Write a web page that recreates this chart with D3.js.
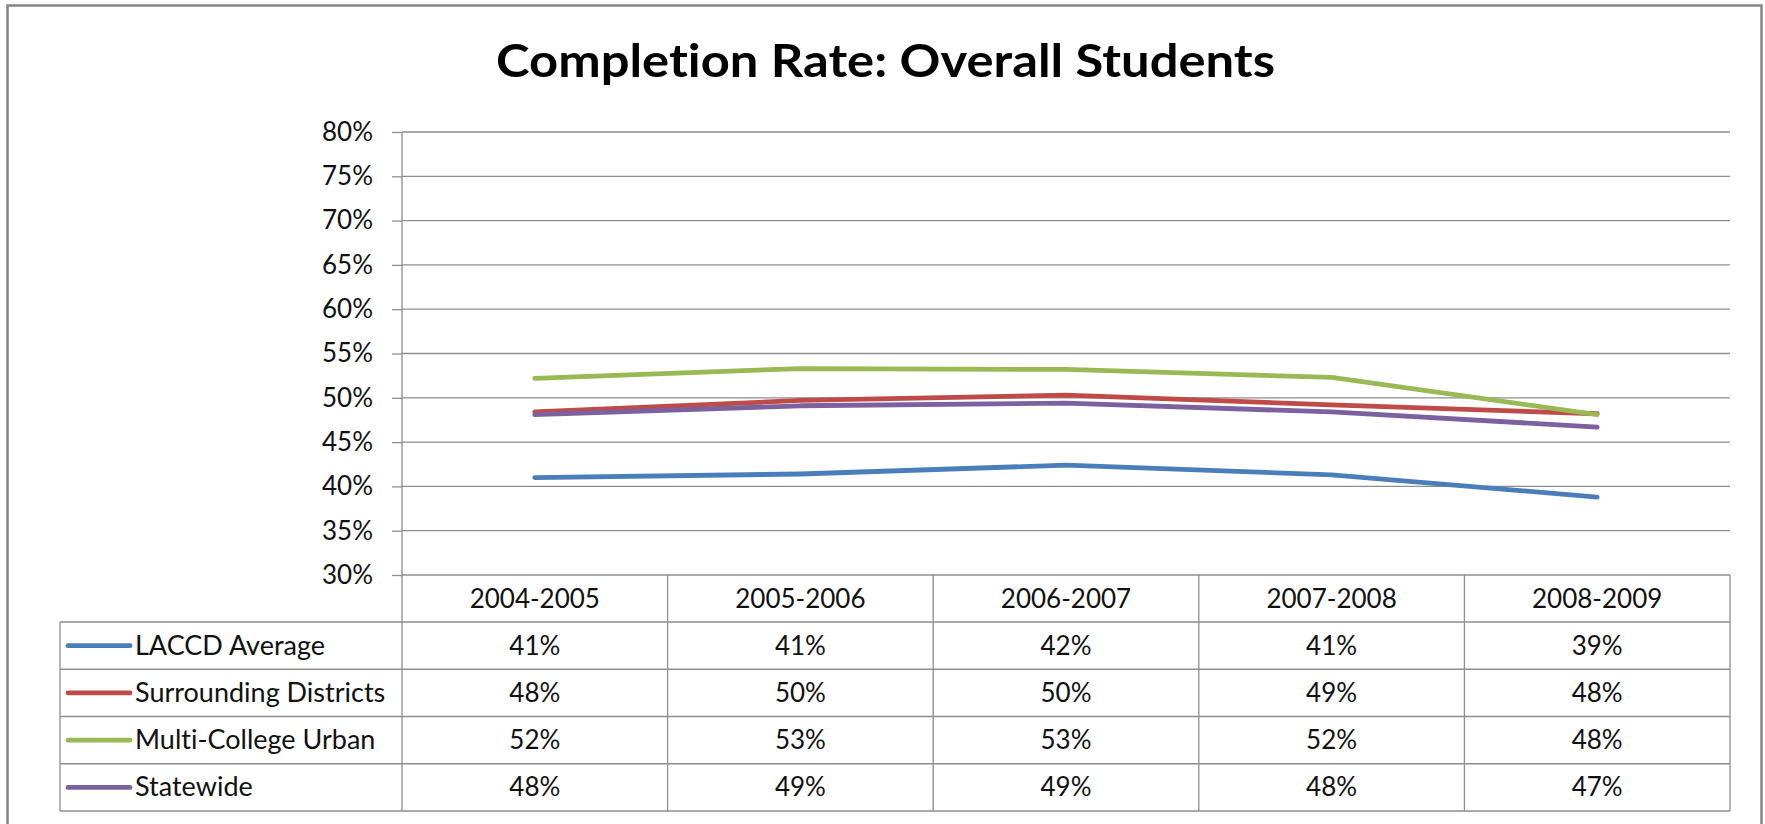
<!DOCTYPE html>
<html>
<head>
<meta charset="utf-8">
<script src="https://cdn.jsdelivr.net/npm/d3@7"></script>
<style>
  html, body { margin: 0; padding: 0; background: #ffffff; }
  svg { display: block; }
  text { font-variant-ligatures: none; font-feature-settings: "liga" 0, "clig" 0; }
</style>
</head>
<body>
<svg id="chart" width="1765" height="824"></svg>
<script>
// ---------------- DATA ----------------
const chartTitle = "Completion Rate: Overall Students";
const categories = ["2004-2005", "2005-2006", "2006-2007", "2007-2008", "2008-2009"];
const seriesNames = ["LACCD Average", "Surrounding Districts", "Multi-College Urban", "Statewide"];
const laccdAverage = [0.410, 0.414, 0.424, 0.413, 0.388];
const surroundingDistricts = [0.484, 0.497, 0.503, 0.492, 0.482];
const multiCollegeUrban = [0.522, 0.533, 0.532, 0.523, 0.481];
const statewide = [0.481, 0.491, 0.494, 0.484, 0.467];
const yTickValues = [0.30, 0.35, 0.40, 0.45, 0.50, 0.55, 0.60, 0.65, 0.70, 0.75, 0.80];
const seriesColors = ["#4A7EBB", "#BE4B48", "#98B954", "#7D60A0"];

const seriesValues = [laccdAverage, surroundingDistricts, multiCollegeUrban, statewide];
const series = seriesNames.map((name, i) => ({ name, values: seriesValues[i], color: seriesColors[i] }));

// ---------------- LAYOUT ----------------
const W = 1765, H = 824;
const plot = { left: 402, right: 1730, top: 132, bottom: 575 };
const table = { left: 60, headerBottom: 622, bottom: 811 };
const gridColor = "#8e8e8e";
const font = "Lato, 'Open Sans', sans-serif";
const textColor = "#111111";

const svg = d3.select("#chart");
svg.append("rect").attr("width", W).attr("height", H).attr("fill", "#fff");

// outer chart border
svg.append("rect")
  .attr("x", 7.5).attr("y", 5.5)
  .attr("width", 1754).attr("height", 840)
  .attr("fill", "none").attr("stroke", "#858585").attr("stroke-width", 2.5);

// title
svg.append("text")
  .attr("x", 885.5).attr("y", 77)
  .attr("text-anchor", "middle")
  .attr("font-family", font).attr("font-weight", "bold")
  .attr("font-size", 46).attr("fill", "#000")
  .attr("textLength", 779).attr("lengthAdjust", "spacingAndGlyphs")
  .text(chartTitle);

// scales
const x = d3.scaleBand().domain(categories).range([plot.left, plot.right]);
const xc = d => x(d) + x.bandwidth() / 2;
const y = d3.scaleLinear().domain([0.30, 0.80]).range([plot.bottom, plot.top]);
const row = d3.scaleBand().domain(seriesNames).range([table.headerBottom, table.bottom]);

// gridlines
svg.append("g").selectAll("line").data(yTickValues).join("line")
  .attr("x1", plot.left).attr("x2", plot.right)
  .attr("y1", d => y(d)).attr("y2", d => y(d))
  .attr("stroke", gridColor).attr("stroke-width", 1.3);

// y axis
const yAxis = svg.append("g")
  .attr("transform", `translate(${plot.left},0)`)
  .call(d3.axisLeft(y).tickValues(yTickValues).tickFormat(d3.format(".0%")).tickSize(10).tickPadding(19));
yAxis.select(".domain").remove();
yAxis.selectAll(".tick line").attr("stroke", gridColor).attr("stroke-width", 1.3);
yAxis.selectAll(".tick text")
  .attr("font-family", font).attr("font-size", 26).attr("fill", textColor);

// ---------------- DATA TABLE ----------------
const tg = svg.append("g");
const colEdges = categories.map(c => x(c)).concat([plot.right]);
tg.selectAll("line.col").data(colEdges).join("line").attr("class", "col")
  .attr("x1", d => d).attr("x2", d => d)
  .attr("y1", (d, i) => i === 0 ? plot.top : plot.bottom).attr("y2", table.bottom)
  .attr("stroke", gridColor).attr("stroke-width", 1.3);
tg.append("line")
  .attr("x1", table.left).attr("x2", table.left)
  .attr("y1", table.headerBottom).attr("y2", table.bottom)
  .attr("stroke", gridColor).attr("stroke-width", 1.3);
const rowEdges = seriesNames.map(n => row(n)).concat([table.bottom]);
tg.selectAll("line.row").data(rowEdges).join("line").attr("class", "row")
  .attr("x1", table.left).attr("x2", plot.right)
  .attr("y1", d => d).attr("y2", d => d)
  .attr("stroke", gridColor).attr("stroke-width", 1.3);

tg.selectAll("text.hdr").data(categories).join("text").attr("class", "hdr")
  .attr("x", d => xc(d)).attr("y", (plot.bottom + table.headerBottom) / 2 + 9)
  .attr("text-anchor", "middle")
  .attr("font-family", font).attr("font-size", 26).attr("fill", textColor)
  .text(d => d);

const rows = tg.selectAll("g.r").data(series).join("g").attr("class", "r")
  .attr("transform", d => `translate(0,${row(d.name) + row.bandwidth() / 2})`);
rows.append("line")
  .attr("x1", 68).attr("x2", 130).attr("y1", 0).attr("y2", 0)
  .attr("stroke", d => d.color).attr("stroke-width", 4.8).attr("stroke-linecap", "round");
rows.append("text")
  .attr("x", 135).attr("y", 9)
  .attr("font-family", font).attr("font-size", 27).attr("fill", textColor)
  .text(d => d.name);
rows.selectAll("text.v").data(d => d.values.map((v, i) => ({ v, c: categories[i] }))).join("text")
  .attr("class", "v")
  .attr("x", d => xc(d.c)).attr("y", 9)
  .attr("text-anchor", "middle")
  .attr("font-family", font).attr("font-size", 26).attr("fill", textColor)
  .text(d => d3.format(".0%")(d.v));

// ---------------- LINES ----------------
const line = d3.line().x((d, i) => xc(categories[i])).y(d => y(d));
svg.append("g").selectAll("path").data(series).join("path")
  .attr("d", d => line(d.values))
  .attr("fill", "none")
  .attr("stroke", d => d.color)
  .attr("stroke-width", 4.8)
  .attr("stroke-linecap", "round")
  .attr("stroke-linejoin", "round");
</script>
</body>
</html>
